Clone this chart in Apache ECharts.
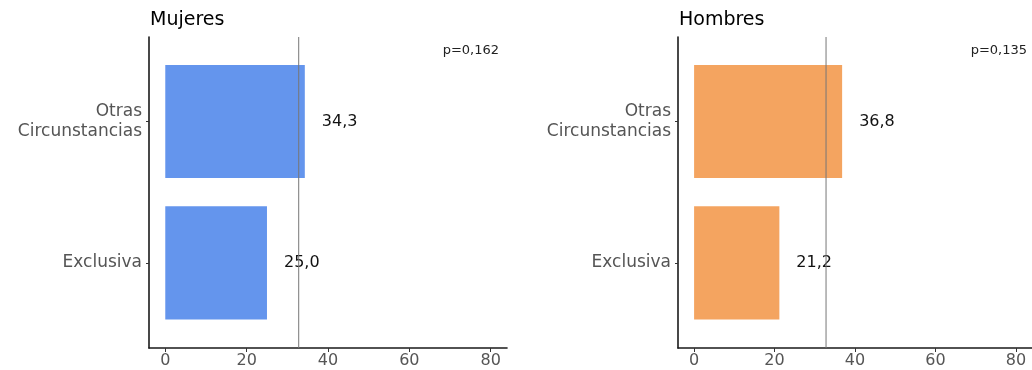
<!DOCTYPE html>
<html>
<head>
<meta charset="utf-8">
<script src="https://cdn.jsdelivr.net/npm/echarts@6/dist/echarts.min.js"></script>
<style>
  html, body { margin: 0; padding: 0; background: #fff; }
  #chart { width: 1032px; height: 370px; }
</style>
</head>
<body>
<div id="chart"></div>
<script>
// Categories (bottom to top) and percentages per panel
const categories = ['Exclusiva', 'Otras\nCircunstancias'];
const mujeres = [25.0, 34.3];
const hombres = [21.2, 36.8];
const referencia = 32.8;          // vertical reference line
const panelTitles = ['Mujeres', 'Hombres'];
const pValues = ['p=0,162', 'p=0,135'];
const xTicks = [0, 20, 40, 60, 80];
const xMin = -4, xMax = 84;
const colors = ['#6495ED', '#F4A460'];

const FONT = 'DejaVu Sans';
const panelLeft = [149, 678];
const panelWidth = 358;

const grids = [], xAxes = [], yAxes = [], series = [], titles = [];
const fmt = v => v.toFixed(1).replace('.', ',');

[mujeres, hombres].forEach((values, p) => {
  const gFrame = p * 2, gData = p * 2 + 1;
  // frame grid: axis lines, x ticks and reference line
  grids.push({ left: panelLeft[p], top: 37, width: panelWidth, height: 311 });
  // data grid: category bands with ggplot-style padding
  grids.push({ left: panelLeft[p], top: 50.8, width: panelWidth, height: 282.8 });

  xAxes.push({
    type: 'value', gridIndex: gFrame, min: xMin, max: xMax,
    axisLine: { show: true, onZero: false, lineStyle: { color: '#1a1a1a', width: 1.6 } },
    axisTick: { show: true, customValues: xTicks, length: 4, lineStyle: { color: '#333' } },
    axisLabel: { customValues: xTicks, color: '#555', fontSize: 16, fontFamily: FONT, margin: 5 },
    splitLine: { show: false }
  });
  xAxes.push({
    type: 'value', gridIndex: gData, min: xMin, max: xMax, show: false
  });
  yAxes.push({
    type: 'value', gridIndex: gFrame, min: 0, max: 1,
    axisLine: { show: true, onZero: false, lineStyle: { color: '#1a1a1a', width: 1.6 } },
    axisTick: { show: false }, axisLabel: { show: false }, splitLine: { show: false }
  });
  yAxes.push({
    type: 'category', gridIndex: gData, data: categories,
    axisLine: { show: false, onZero: false },
    axisTick: { show: true, alignWithLabel: true, length: 3, lineStyle: { color: '#333' } },
    axisLabel: { color: '#555', fontSize: 17, fontFamily: FONT, margin: 7, lineHeight: 20, align: 'right' }
  });

  series.push({
    type: 'bar', xAxisIndex: gData, yAxisIndex: gData, data: values,
    barWidth: '80%', z: 2,
    itemStyle: { color: colors[p] },
    label: {
      show: true, position: 'right', distance: 17,
      formatter: d => fmt(d.value),
      color: '#111', fontSize: 16, fontFamily: FONT
    }
  });
  series.push({
    type: 'line', xAxisIndex: gFrame, yAxisIndex: gFrame, z: 5,
    data: [[referencia, 0], [referencia, 1]],
    symbol: 'none', silent: true,
    lineStyle: { color: '#777', width: 1 }
  });

  titles.push({
    text: panelTitles[p], left: panelLeft[p] + 1, top: 11, padding: 0,
    textStyle: { fontSize: 19, fontWeight: 'normal', color: '#000', fontFamily: FONT }
  });
  titles.push({
    text: pValues[p], right: p === 0 ? 533 : 5, top: 44, padding: 0,
    textStyle: { fontSize: 13, fontWeight: 'normal', color: '#222', fontFamily: FONT }
  });
});

const chart = echarts.init(document.getElementById('chart'), null, { renderer: 'canvas' });
chart.setOption({
  backgroundColor: '#fff',
  animation: false,
  title: titles,
  grid: grids,
  xAxis: xAxes,
  yAxis: yAxes,
  series: series
});
</script>
</body>
</html>
